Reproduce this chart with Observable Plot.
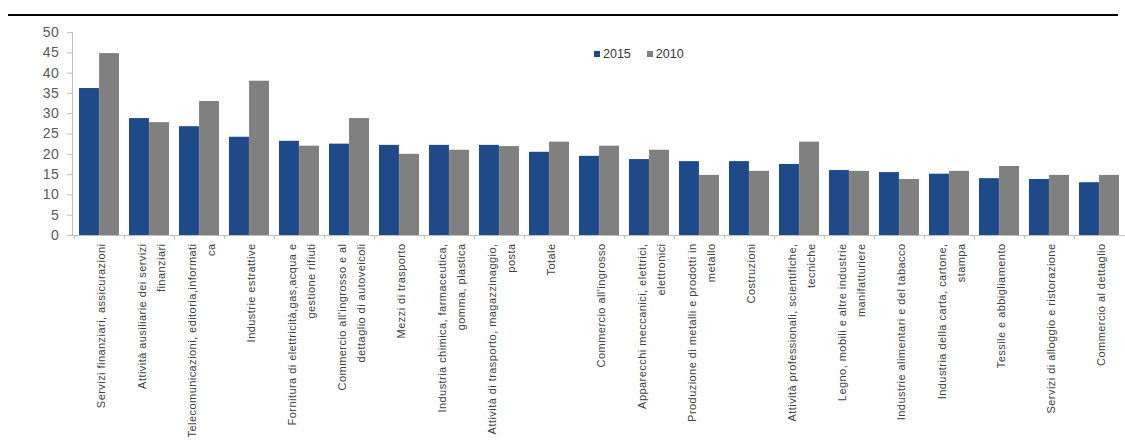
<!DOCTYPE html>
<html>
<head>
<meta charset="utf-8">
<script src="https://cdn.jsdelivr.net/npm/d3@7"></script>
<script src="https://cdn.jsdelivr.net/npm/@observablehq/plot@0.6"></script>
<style>
  html, body { margin: 0; padding: 0; background: #fff; }
  #wrap { position: relative; width: 1125px; height: 447px; overflow: hidden; font-family: "Liberation Sans", Arial, sans-serif; }
  #topline { position: absolute; left: 8px; top: 14px; width: 1110px; height: 2px; background: #000; }
  #legend { position: absolute; left: 594px; top: 47px; font-size: 12.5px; color: #333; display: flex; align-items: center; white-space: nowrap; }
  #legend .sw { display: inline-block; width: 6px; height: 6px; margin-right: 3px; }
  #legend .item { display: inline-flex; align-items: center; margin-right: 16px; }
  g[aria-label="x-axis tick label"] { letter-spacing: 0.45px; font-family: "Liberation Sans", Arial, sans-serif; }
  g[aria-label="y-axis tick label"] { letter-spacing: 0.6px; font-family: "Liberation Sans", Arial, sans-serif; }
</style>
</head>
<body>
<div id="wrap">
  <div id="chart"></div>
  <div id="topline"></div>
  <div id="legend"></div>
</div>
<script>
const categories = [
  "Servizi finanziari, assicurazioni",
  "Attività ausiliarie dei servizi\nfinanziari",
  "Telecomunicazioni, editoria,informati\nca",
  "Industrie estrattive",
  "Fornitura di elettricità,gas,acqua e\ngestione rifiuti",
  "Commercio all'ingrosso e al\ndettaglio di autoveicoli",
  "Mezzi di trasporto",
  "Industria chimica, farmaceutica,\ngomma, plastica",
  "Attività di trasporto, magazzinaggio,\nposta",
  "Totale",
  "Commercio all'ingrosso",
  "Apparecchi meccanici, elettrici,\nelettronici",
  "Produzione di metalli e prodotti in\nmetallo",
  "Costruzioni",
  "Attività professionali, scientifiche,\ntecniche",
  "Legno, mobili e altre industrie\nmanifatturiere",
  "Industrie alimentari e del tabacco",
  "Industria della carta, cartone,\nstampa",
  "Tessile e abbigliamento",
  "Servizi di alloggio e ristorazione",
  "Commercio al dettaglio"
];
const values2015 = [36.2, 28.8, 26.8, 24.2, 23.2, 22.5, 22.2, 22.2, 22.2, 20.5, 19.5, 18.7, 18.2, 18.2, 17.5, 16.0, 15.5, 15.1, 14.0, 13.8, 13.0];
const values2010 = [44.8, 27.8, 33.0, 38.0, 22.0, 28.8, 20.0, 21.0, 21.9, 23.0, 22.0, 21.0, 14.8, 15.8, 23.0, 15.8, 13.8, 15.8, 17.0, 14.8, 14.8];
const seriesNames = ["2015", "2010"];
const seriesColors = ["#1f4a8a", "#808080"];
const yTicks = [0, 5, 10, 15, 20, 25, 30, 35, 40, 45, 50];

const rows = categories.map((c, i) => ({cat: c, v2015: values2015[i], v2010: values2010[i]}));

const W = 1125, H = 447, ML = 72, MR = 0;
const step = (W - ML - MR) / categories.length;

const chart = Plot.plot({
  width: W,
  height: H,
  marginLeft: ML,
  marginRight: MR,
  marginTop: 32,
  marginBottom: 212,
  style: {fontFamily: "'Liberation Sans', Arial, sans-serif", background: "#fff", overflow: "visible"},
  x: {type: "band", domain: categories, padding: 0},
  y: {domain: [0, 50]},
  marks: [
    Plot.barY(rows, {x: "cat", y: "v2015", fill: seriesColors[0], insetLeft: step * 0.1, insetRight: step * 0.5}),
    Plot.barY(rows, {x: "cat", y: "v2010", fill: seriesColors[1], insetLeft: step * 0.5, insetRight: step * 0.1}),
    Plot.ruleY([0], {stroke: "#bfbfbf"}),
    Plot.frame({anchor: "left", stroke: "#bfbfbf"}),
    Plot.axisY({ticks: yTicks, tickSize: 5, tickPadding: 8, fontSize: 14, fill: "#595959", stroke: "#bfbfbf", label: null, tickFormat: d => String(d)}),
    Plot.axisX({tickSize: 4, fill: "none", stroke: "#bfbfbf", dx: -step / 2, label: null}),
    Plot.axisX({tickSize: 0, tickPadding: 8, tickRotate: -90, textAnchor: "end", lineAnchor: "middle", lineHeight: 1.7, fontSize: 11, fill: "#404040", label: null})
  ]
});
document.getElementById("chart").appendChild(chart);

const legend = document.getElementById("legend");
seriesNames.forEach((n, i) => {
  const item = document.createElement("span");
  item.className = "item";
  const sw = document.createElement("span");
  sw.className = "sw";
  sw.style.background = seriesColors[i];
  item.appendChild(sw);
  item.appendChild(document.createTextNode(n));
  legend.appendChild(item);
});
</script>
</body>
</html>
